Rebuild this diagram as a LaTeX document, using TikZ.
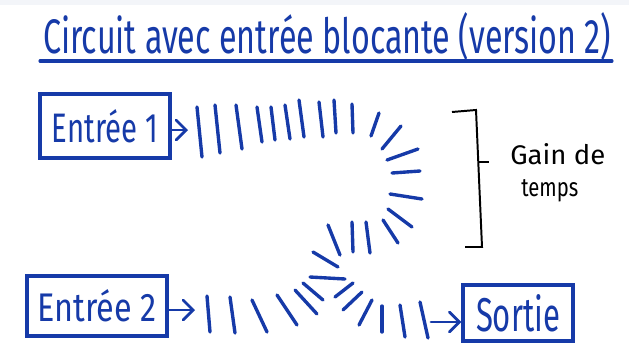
\documentclass[tikz,border=0pt]{standalone}
\usepackage{fontspec}
\setmainfont{Fira Sans}
\usepackage{graphicx}
\usepackage{tikz}
\usetikzlibrary{positioning}
\usetikzlibrary{arrows.meta}

\definecolor{ink}{RGB}{22,58,168}
\definecolor{band}{RGB}{243,245,249}

% one pixel of the sketch
\newlength\px
\setlength\px{0.025cm}
% handwritten-size text: width, height, text
\newcommand\handtext[3]{\resizebox{#1}{#2}{#3}}

\tikzset{
  pbox/.style={draw=ink, line width=2.4pt, inner sep=0pt, text=ink},
  pulse/.style={draw=ink, line width=2.4pt, line cap=round},
  parrow/.style={draw=ink, line width=2pt, line cap=round,
    -{Straight Barb[length=7pt, width=14pt, line cap=round]}},
  note/.style={inner sep=0pt, anchor=base west}
}

\begin{document}
\begin{tikzpicture}[x=0.025cm, y=-0.025cm]
\useasboundingbox (0,0) rectangle (629,343);
\fill[band] (0,0) rectangle (629,5);

% title
\node[note, text=ink] (title) at (43,53)
  {\handtext{568\px}{41\px}{Circuit avec entrée blocante (version 2)}};
\draw[draw=ink, line width=2.2pt, line cap=round] (40,61) -- (612,61);

% inputs and output
\node[pbox, minimum width=130\px, minimum height=64\px] (e1) at (105,126)
  {\handtext{106\px}{33\px}{Entrée 1}};
\node[pbox, minimum width=140\px, minimum height=60\px] (e2) at (97,306)
  {\handtext{119\px}{32\px}{Entrée 2}};
\node[pbox, minimum width=110\px, minimum height=56\px] (out) at (518,313)
  {\handtext{84\px}{37\px}{Sortie}};

\coordinate (e1end) at (188,130);
\coordinate (e2end) at (195,310);
\coordinate (outstart) at (431,322);

\draw[parrow] (e1.east |- e1end) -- (e1end);
\draw[parrow] (e2.east |- e2end) -- (e2end);
\draw[parrow] (outstart) -- (out.west |- outstart);

% signal from input 1, around the bend
\foreach \xa/\ya/\xb/\yb in {197/107/202/157, 215/105/220/153, 236/105/242/149,
    257/107/262/142, 271/107/275/140, 285/105/290/139, 299/100/304/137,
    319/102/323/137, 334/100/336/133, 352/104/353/133, 379/113/371/136,
    401/126/382/149, 418/149/387/160, 420/171/392/173, 422/199/390/194,
    412/227/388/209, 398/243/383/220, 370/253/366/222, 353/252/352/222,
    340/255/328/225, 338/267/313/252, 345/279/310/277}
  \draw[pulse] (\xa,\ya) -- (\xb,\yb);

% signal from input 2
\foreach \xa/\ya/\xb/\yb in {210/332/207/296, 235/333/230/297, 267/332/252/300,
    297/325/277/295, 317/314/295/290, 323/300/303/283}
  \draw[pulse] (\xa,\ya) -- (\xb,\yb);

% towards the output
\foreach \xa/\ya/\xb/\yb in {353/283/335/297, 362/292/343/310, 372/300/359/325,
    382/306/382/332, 400/305/405/337, 420/302/428/338}
  \draw[pulse] (\xa,\ya) -- (\xb,\yb);

% time saved
\draw[line width=1.4pt] (452,112) -- (476,110) -- (482,247) -- (465,247);
\coordinate (mid) at (478,162);
\draw[line width=1.4pt] (mid) -- ++(11,0);
\node[note] (gain) at (510,164) {\handtext{95\px}{21\px}{Gain de}};
\node[note] (temps) at (521,196) {\handtext{57\px}{17\px}{temps}};
\end{tikzpicture}
\end{document}
